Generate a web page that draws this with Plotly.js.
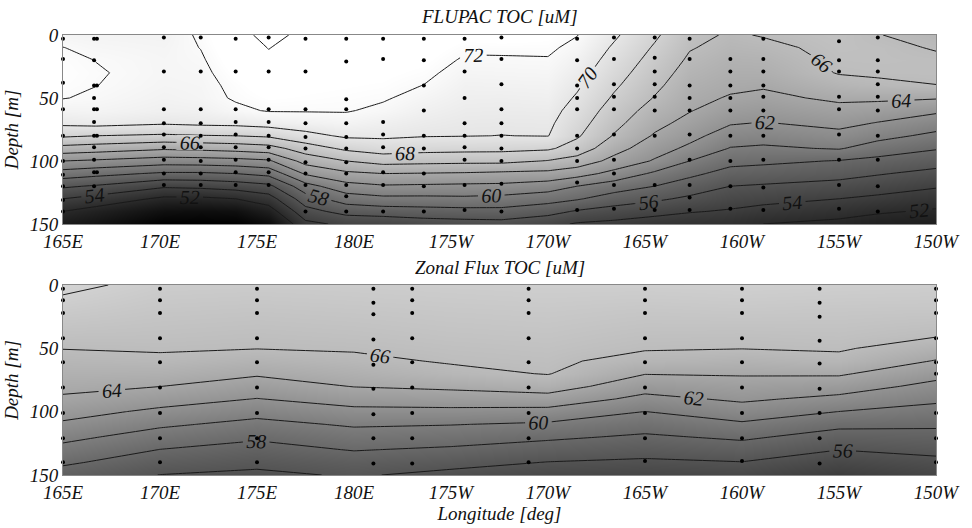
<!DOCTYPE html>
<html><head><meta charset="utf-8">
<script src="https://cdn.plot.ly/plotly-3.0.1.min.js"></script>
<style>
html,body{margin:0;padding:0;background:#fff}
#chart text{font-family:"Liberation Serif","Times New Roman",serif !important;font-style:italic !important;}
</style>
</head><body><div id="chart" style="width:972px;height:528px"></div>
<script>
const lonTicks = [165,170,175,180,185,190,195,200,205,210];
const lonTickText = ['165E','170E','175E','180E','175W','170W','165W','160W','155W','150W'];
const depthTicks = [0,50,100,150];
const depthRows = [0,10,20,30,40,50,60,70,80,90,100,110,120,130,140,150];

// FLUPAC TOC: one profile per longitude (values at depthRows)
const topLon = [165,166.7,170.2,172.1,173.9,175.6,177.5,179.6,181.5,183.6,185.7,187.6,190,191.5,193.4,195.5,197.3,199.4,201.1,205,207,210];
const topToc = [
 [71.5,72.02,72.3,72.4,72.3,72.05,71.3,70.4,68.3,65.3,62.0,59.1,56.3,54.0,52.0,50.5],
 [71.4,71.7,71.98,72.1,72.02,71.8,71.4,70.6,68.0,65.0,61.7,58.6,55.8,53.3,51.2,49.8],
 [71.3,71.5,71.6,71.6,71.5,71.3,71.0,70.2,67.7,64.3,61.0,57.7,54.3,51.6,49.5,48.0],
 [72.2,72.03,71.85,71.7,71.6,71.5,71.1,70.4,67.9,64.5,61.1,57.7,54.5,51.6,49.3,48.0],
 [73.3,73.1,72.9,72.6,72.3,72.15,71.7,70.5,68.0,64.8,61.3,58.0,54.9,52.0,49.5,48.0],
 [74.6,74.05,73.7,73.3,72.9,72.5,72.1,70.8,68.3,65.2,61.7,58.6,55.5,53.1,51.0,49.0],
 [73.5,73.3,73.1,72.9,72.6,72.4,72.1,71.1,69.4,67.0,64.75,62.25,59.25,57.1,55.3,53.5],
 [73.2,73.0,72.8,72.6,72.5,72.3,72.1,71.4,70.3,68.4,66.0,63.6,61.3,59.0,56.7,54.4],
 [73.2,73.0,72.8,72.6,72.4,72.15,71.7,71.0,70.3,69.0,66.75,64.0,61.8,59.5,57.0,54.5],
 [73.1,72.85,72.6,72.3,71.98,71.5,71.05,70.6,70.1,68.7,66.6,63.9,61.7,59.5,57.2,55.0],
 [72.7,72.2,71.85,71.5,71.2,70.95,70.65,70.35,70.05,68.6,66.5,63.8,61.6,59.6,57.35,55.2],
 [72.8,72.25,71.85,71.55,71.25,70.9,70.6,70.3,69.98,68.55,66.5,63.6,61.55,59.4,57.4,55.3],
 [72.6,72.25,71.9,71.6,71.3,71.0,70.65,70.35,70.05,68.3,65.9,63.45,61.0,58.8,56.7,54.6],
 [72.05,71.6,71.15,70.7,70.25,69.8,69.3,68.8,68.25,67.15,65.2,62.8,60.0,58.2,55.8,53.8],
 [70.3,69.76,69.28,68.8,68.3,67.77,67.15,66.55,65.87,64.75,63.4,61.4,59.0,57.05,55.2,53.5],
 [68.3,67.8,67.33,66.86,66.4,65.9,65.2,64.55,63.8,62.85,61.8,59.65,58.0,56.35,54.65,53.0],
 [66.5,66.12,65.72,65.3,64.9,64.5,64.1,63.4,62.6,61.6,60.0,58.45,57.05,55.65,54.15,52.7],
 [65.8,65.45,65.05,64.7,64.35,63.85,63.0,62.15,61.05,59.9,58.6,57.3,56.0,54.9,53.8,52.5],
 [66.1,65.6,65.15,64.7,64.2,63.55,62.75,61.9,60.8,59.7,58.4,57.1,55.8,54.6,53.35,52.0],
 [66.6,66.45,66.3,66.1,65.35,64.35,63.4,62.5,61.45,60.15,57.9,56.65,55.35,54.0,52.75,51.5],
 [66.05,66.35,66.35,66.2,65.7,64.35,63.1,61.9,60.6,59.1,57.45,56.15,54.9,53.6,52.25,51.0],
 [65.5,65.9,66.25,66.25,65.98,64.15,62.35,60.9,59.55,58.15,56.8,55.45,54.2,52.95,51.75,50.8]
];

// Zonal Flux TOC: one profile per longitude (values at depthRows)
const botLon = [165,170,175,180,185,190,195,200,205,210];
const botToc = [
 [68.35,67.9,67.44,66.97,66.5,66.04,65.5,64.96,64.41,63.76,62.75,61.7,60.53,59.4,58.3,57.2],
 [67.6,67.3,67.03,66.74,66.46,66.17,65.67,64.85,64.02,62.83,61.6,60.33,59.13,57.97,56.98,55.97],
 [67.5,67.2,66.9,66.61,66.32,66.04,65.18,64.23,63.11,61.94,60.66,59.44,58.28,57.34,56.48,55.6],
 [67.6,67.32,67.04,66.75,66.46,66.17,65.61,64.84,64.06,62.79,61.5,60.24,59.15,58.1,57.05,56.2],
 [67.7,67.45,67.2,66.95,66.7,66.43,66.16,65.53,64.39,63.01,61.52,60.07,58.88,57.72,56.61,55.5],
 [67.8,67.55,67.3,67.06,66.82,66.58,66.33,66.08,64.92,63.22,61.37,59.72,58.33,57.11,55.95,54.9],
 [67.8,67.45,67.1,66.78,66.45,66.14,65.4,64.07,62.8,61.46,59.98,58.83,57.71,56.69,55.7,54.7],
 [67.9,67.55,67.2,66.8,66.4,66.04,65.12,64.17,63.24,62.31,61.09,59.71,58.33,57.11,55.95,54.85],
 [67.8,67.45,67.1,66.8,66.5,66.2,65.48,64.23,62.91,61.52,59.98,58.47,57.2,56.03,54.9,53.8],
 [67.7,67.4,67.05,66.6,66.12,65.08,63.9,62.63,61.46,60.37,59.33,58.31,57.37,56.47,55.55,54.65]
];

// sample positions
const topStationLon = [165.0,166.6,166.75,170.2,172.1,173.9,175.6,177.5,179.6,181.5,183.6,185.7,187.6,191.5,193.4,195.5,197.3,199.4,201.1,205.0,207.0];
const topStationDepth = [
 [3,19,38,59,80,100,111,120,131,140],
 [3,20,40,50,59,69,80,89,99,109,120],
 [3,40,59,80,109],
 [2,29,59,70,79,89,99,110,119],
 [2,29,59,70,80,89,100,110,119],
 [3,29,59,69,79,89,99,109,119],
 [2,29,59,69,80,89,99,109,119],
 [3,29,59,70,81,90,101,110,119,140],
 [3,21,51,59,70,81,90,101,110,119,128,140],
 [3,19,69,79,89,109,119,140],
 [3,20,40,60,80,90,110,120,140],
 [3,29,50,70,80,89,99,119,139],
 [2,19,39,59,70,80,90,100,118,140],
 [3,20,40,50,59,80,90,100,117,139],
 [2,19,39,49,59,79,99,110,119,138],
 [2,18,29,39,49,60,80,119,139],
 [3,19,40,50,60,79,99,119,129,139],
 [19,29,40,50,60,80,100,120,138],
 [3,19,29,40,49,60,80,99,121,139],
 [5,20,29,49,59,79,99,119,138],
 [2,20,29,39,49,60,80,99,120,140]
];
const botStationLon = [165,170,175,181,183,189,195,200,204,210];
const botStationDepth = [
 [3,12,22,42,61,81,101,121,140],
 [3,12,22,42,61,81,101,121,140],
 [3,12,22,42,61,81,101,121,140],
 [3,14,23,43,63,82,102,121,141],
 [3,12,22,42,61,81,101,121,141],
 [3,12,22,42,61,81,101,121,140],
 [3,12,22,42,61,81,101,121,139],
 [3,12,22,42,61,81,101,121,139],
 [3,14,25,44,62,82,101,121,141],
 [3,12,22,42,61,70,101,121,140]
];

function flatten(lons, depths){
  const xs=[], ys=[];
  lons.forEach((l,i)=>depths[i].forEach(d=>{xs.push(l); ys.push(d);}));
  return {xs, ys};
}
const tp = flatten(topStationLon, topStationDepth);
const bp = flatten(botStationLon, botStationDepth);

const SERIF = 'Liberation Serif';
const gray = [[0,'#000000'],[1,'#ffffff']];
function contourTrace(x, z, start, end, xa, ya){
  return {type:'contour', x:x, y:depthRows, z:z, transpose:true, xaxis:xa, yaxis:ya,
    zauto:false, zmin:48, zmax:72.5, colorscale:gray, showscale:false,
    contours:{start:start, end:end, size:2, coloring:'heatmap', showlines:true, showlabels:true,
      labelfont:{family:SERIF, size:20, color:'#111', style:'italic'}},
    line:{color:'#1a1a1a', width:1, smoothing:0}, hoverinfo:'skip'};
}
const data = [
  contourTrace(topLon, topToc, 52, 74, 'x', 'y'),
  {type:'scatter', mode:'markers', x:tp.xs, y:tp.ys, xaxis:'x', yaxis:'y', cliponaxis:false,
   marker:{color:'#000', size:4}, hoverinfo:'skip'},
  contourTrace(botLon, botToc, 56, 68, 'x2', 'y2'),
  {type:'scatter', mode:'markers', x:bp.xs, y:bp.ys, xaxis:'x2', yaxis:'y2', cliponaxis:false,
   marker:{color:'#000', size:4}, hoverinfo:'skip'}
];
function mkFont(){ return {family:SERIF, size:19, color:'#111', style:'italic'}; }
function xAxis(anchor, title){
  const a = {anchor:anchor, domain:[0,1], range:[165,210], tickmode:'array', tickvals:lonTicks, ticktext:lonTickText,
    tickfont:mkFont(), ticks:'', showgrid:false, zeroline:false, showline:true, mirror:true,
    linecolor:'#888', linewidth:1};
  if(title) a.title = {text:title, font:mkFont(), standoff:2};
  return a;
}
function yAxis(anchor, domain){
  return {anchor:anchor, domain:domain, range:[150,0], tickmode:'array', tickvals:depthTicks,
    tickfont:mkFont(), ticks:'', showgrid:false, zeroline:false, showline:true, mirror:true,
    linecolor:'#888', linewidth:1,
    title:{text:'Depth [m]', font:mkFont(), standoff:6}};
}
const layout = {
  width:972, height:528, paper_bgcolor:'#fff', plot_bgcolor:'#fff',
  font:mkFont(),
  margin:{l:63, r:36, t:35, b:53}, showlegend:false, hovermode:false,
  xaxis: xAxis('y'), yaxis: yAxis('x', [0.5705,1]),
  xaxis2: xAxis('y2', 'Longitude [deg]'), yaxis2: yAxis('x2', [0,0.4318]),
  annotations:[
    {text:'FLUPAC TOC [uM]', xref:'paper', yref:'paper', x:0.5, y:1.041, xanchor:'center', yanchor:'middle',
     showarrow:false, font:mkFont()},
    {text:'Zonal Flux TOC [uM]', xref:'paper', yref:'paper', x:0.5, y:0.4705, xanchor:'center', yanchor:'middle',
     showarrow:false, font:mkFont()}
  ]
};
Plotly.newPlot('chart', data, layout, {displayModeBar:false, staticPlot:true});
</script></body></html>
